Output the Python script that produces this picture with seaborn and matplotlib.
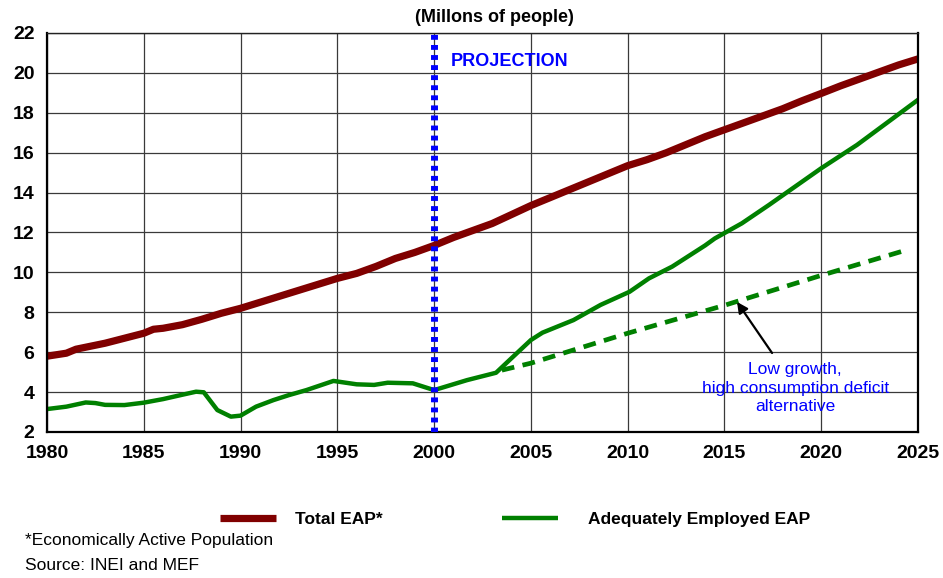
import matplotlib
matplotlib.use("Agg")
import matplotlib.pyplot as plt
import seaborn as sns
from matplotlib.lines import Line2D

# ---- data ----
total_years = [1980, 1981, 1981.5, 1982, 1983, 1984, 1985, 1985.5, 1986, 1987, 1988, 1989, 1990,
               1991, 1992, 1993, 1994, 1995, 1996, 1997, 1998, 1999, 2000, 2001, 2002, 2003,
               2004, 2005, 2006, 2007, 2008, 2009, 2010, 2011, 2012, 2013, 2014, 2015, 2016,
               2017, 2018, 2019, 2020, 2021, 2022, 2023, 2024, 2025]
total_eap = [5.8, 5.95, 6.15, 6.25, 6.45, 6.7, 6.95, 7.15, 7.2, 7.38, 7.65, 7.95, 8.2,
             8.5, 8.8, 9.1, 9.4, 9.7, 9.95, 10.3, 10.7, 11.0, 11.35, 11.75, 12.1, 12.45,
             12.9, 13.35, 13.75, 14.15, 14.55, 14.95, 15.35, 15.65, 16.0, 16.4, 16.8, 17.15,
             17.5, 17.85, 18.2, 18.6, 18.97, 19.35, 19.7, 20.05, 20.4, 20.7]

adeq_years = [1980, 1981, 1982, 1982.5, 1983, 1984, 1985, 1986, 1987, 1987.7, 1988.1, 1988.8,
              1989.5, 1990, 1990.8, 1991.7, 1992.5, 1993.4, 1994.8, 1996, 1996.9, 1997.6,
              1998.9, 2000, 2001.7, 2003.2, 2003.9, 2005, 2005.6, 2007.2, 2008.6, 2010.1,
              2011.1, 2012.3, 2014.0, 2014.5, 2015.9, 2017.3, 2020, 2021.85, 2025]
adeq_eap = [3.15, 3.27, 3.48, 3.45, 3.36, 3.35, 3.47, 3.65, 3.87, 4.02, 3.99, 3.1,
            2.77, 2.82, 3.27, 3.6, 3.85, 4.1, 4.56, 4.39, 4.36, 4.47,
            4.44, 4.1, 4.6, 4.97, 5.61, 6.61, 6.98, 7.61, 8.37, 9.03,
            9.7, 10.29, 11.35, 11.7, 12.46, 13.38, 15.22, 16.39, 18.65]

low_years = [2003.5, 2005, 2010, 2015, 2020, 2024.5]
low_growth = [5.1, 5.45, 6.95, 8.35, 9.85, 11.15]

x_ticks = [1980, 1985, 1990, 1995, 2000, 2005, 2010, 2015, 2020, 2025]
y_ticks = [2, 4, 6, 8, 10, 12, 14, 16, 18, 20, 22]
projection_year = 2000

RED = "#800000"
GREEN = "#008000"
BLUE = "#0000FF"

sns.set_style("white")
FAM = ["Liberation Sans Narrow", "Liberation Sans", "DejaVu Sans"]
plt.rcParams["font.family"] = FAM
for k in ["text.color", "axes.labelcolor", "xtick.color", "ytick.color"]:
    plt.rcParams[k] = "black"

fig = plt.figure(figsize=(9.43, 5.78), dpi=100)
ax = fig.add_axes([47 / 943, 1 - 432 / 578, (918 - 47) / 943, (432 - 33) / 578])

ax.set_xlim(1980, 2025)
ax.set_ylim(2, 22)
ax.set_xticks(x_ticks)
ax.set_yticks(y_ticks)
ax.grid(True, color="#3a3a3a", lw=0.9)
ax.set_axisbelow(True)

sns.lineplot(x=total_years, y=total_eap, ax=ax, color=RED, lw=5.2, solid_capstyle="butt")
sns.lineplot(x=adeq_years, y=adeq_eap, ax=ax, color=GREEN, lw=3.2)
sns.lineplot(x=low_years, y=low_growth, ax=ax, color=GREEN, lw=3.4)
ax.lines[-1].set_linestyle((0, (2.7, 1.8)))

ax.axvline(projection_year, color=BLUE, lw=5, linestyle=(0, (0.7, 0.75)), zorder=5)

for s in ["left", "bottom", "right"]:
    ax.spines[s].set_linewidth(1.6)
    ax.spines[s].set_color("black")
ax.spines["top"].set_linewidth(1.0)
ax.spines["top"].set_color("#222222")

ax.tick_params(axis="both", which="major", direction="out", length=5, width=1.2,
               color="black", labelcolor="black", labelsize=14, pad=4)
for lbl in ax.get_xticklabels() + ax.get_yticklabels():
    lbl.set_fontweight("bold")
ax.set_xlabel("")
ax.set_ylabel("")

fig.text(494 / 943, 1 - 18 / 578, "(Millons of people)", ha="center", va="center",
         fontsize=13, fontweight="bold")
ax.text(2000.85, 20.55, "PROJECTION", color=BLUE, fontsize=13, fontweight="bold",
        ha="left", va="center")

ax.text(2018.65, 4.2, "Low growth,\nhigh consumption deficit\nalternative",
        ha="center", va="center", color=BLUE, fontsize=12.5, linespacing=1.3)
ax.annotate("", xy=(2015.65, 8.52), xytext=(2017.46, 5.96),
            arrowprops=dict(arrowstyle="-|>", color="black", lw=1.6,
                            mutation_scale=16, shrinkA=0, shrinkB=0))

leg_kw = dict(loc="center left", frameon=False, handlelength=3.2,
              borderpad=0, borderaxespad=0,
              prop=dict(family=FAM, weight="bold", size=12.5))
fig.legend([Line2D([], [], color=RED, lw=5.2, solid_capstyle="butt")], ["Total EAP*"],
           bbox_to_anchor=(220 / 943, 1 - 519 / 578), handletextpad=1.1, **leg_kw)
fig.legend([Line2D([], [], color=GREEN, lw=3.2, solid_capstyle="butt")],
           ["Adequately Employed EAP"],
           bbox_to_anchor=(502 / 943, 1 - 519 / 578), handletextpad=1.75, **leg_kw)

fig.text(25 / 943, 1 - 541 / 578, "*Economically Active Population", ha="left", va="center",
         fontsize=12.5)
fig.text(25 / 943, 1 - 566 / 578, "Source: INEI and MEF", ha="left", va="center",
         fontsize=12.5)

fig.savefig("out.png", dpi=100, facecolor="white")
